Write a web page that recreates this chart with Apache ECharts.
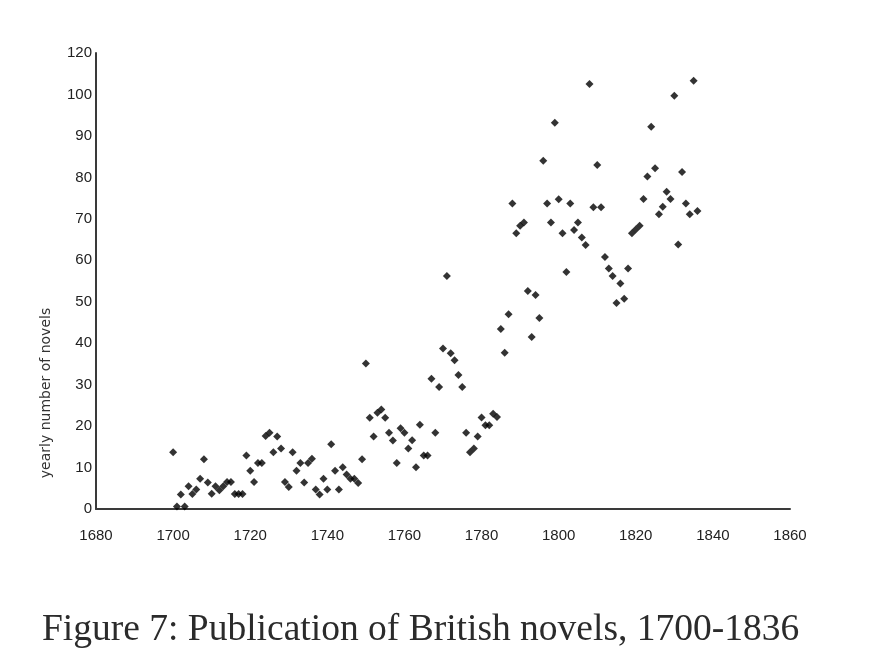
<!DOCTYPE html>
<html>
<head>
<meta charset="utf-8">
<script src="https://cdn.jsdelivr.net/npm/echarts@6/dist/echarts.min.js"></script>
<style>
html,body{margin:0;padding:0;background:#fff;}
#chart{width:880px;height:670px;}
</style>
</head>
<body>
<div id="chart"></div>
<script>
var years = [
  1700,1701,1702,1703,1704,1705,1706,1707,1708,1709,
  1710,1711,1712,1713,1714,1715,1716,1717,1718,1719,
  1720,1721,1722,1723,1724,1725,1726,1727,1728,1729,
  1730,1731,1732,1733,1734,1735,1736,1737,1738,1739,
  1740,1741,1742,1743,1744,1745,1746,1747,1748,1749,
  1750,1751,1752,1753,1754,1755,1756,1757,1758,1759,
  1760,1761,1762,1763,1764,1765,1766,1767,1768,1769,
  1770,1771,1772,1773,1774,1775,1776,1777,1778,1779,
  1780,1781,1782,1783,1784,1785,1786,1787,1788,1789,
  1790,1791,1792,1793,1794,1795,1796,1797,1798,1799,
  1800,1801,1802,1803,1804,1805,1806,1807,1808,1809,
  1810,1811,1812,1813,1814,1815,1816,1817,1818,1819,
  1820,1821,1822,1823,1824,1825,1826,1827,1828,1829,
  1830,1831,1832,1833,1834,1835,1836
];
var novels = [
  13.7, 0.6, 3.5, 0.6, 5.5, 3.6, 4.7, 7.3, 12.0, 6.4,
  3.7, 5.5, 4.5, 5.5, 6.5, 6.5, 3.6, 3.6, 3.6, 12.9,
  9.2, 6.5, 11.1, 11.1, 17.6, 18.4, 13.7, 17.5, 14.6, 6.5,
  5.3, 13.7, 9.2, 11.1, 6.4, 11.1, 12.1, 4.7, 3.5, 7.3,
  4.7, 15.6, 9.2, 4.7, 10.1, 8.3, 7.3, 7.3, 6.3, 12.0,
  35.1, 22.0, 17.5, 23.2, 24.0, 22.0, 18.4, 16.5, 11.1, 19.5,
  18.4, 14.6, 16.6, 10.1, 20.3, 12.9, 12.9, 31.4, 18.4, 29.4,
  38.7, 56.2, 37.6, 35.9, 32.3, 29.4, 18.4, 13.7, 14.6, 17.5,
  22.1, 20.2, 20.2, 23.0, 22.2, 43.4, 37.7, 47.0, 73.7, 66.5,
  68.3, 69.1, 52.6, 41.5, 51.6, 46.1, 84.0, 73.7, 69.1, 93.2,
  74.7, 66.5, 57.2, 73.7, 67.3, 69.1, 65.5, 63.7, 102.5, 72.8,
  83.0, 72.8, 60.8, 58.0, 56.2, 49.7, 54.4, 50.7, 58.0, 66.5,
  67.4, 68.3, 74.8, 80.2, 92.2, 82.2, 71.1, 72.9, 76.5, 74.8,
  99.7, 63.8, 81.3, 73.7, 71.1, 103.3, 71.9
];
var yTickLabels = {0:'0',10:'10',20:'20',30:'30',40:'40',50:'50',60:'60',70:'70',80:'80',90:'90',100:'100',110:'120'};
var yAxisTitle = 'yearly number of novels';
var caption = 'Figure 7: Publication of British novels, 1700-1836';

var points = years.map(function (y, i) { return [y, novels[i]]; });

var chart = echarts.init(document.getElementById('chart'), null, {renderer: 'canvas'});
var labelFont = {color: '#222', fontSize: 15, fontFamily: 'Liberation Sans, Arial, sans-serif'};
chart.setOption({
  animation: false,
  backgroundColor: '#fff',
  grid: {left: 96, right: 90, top: 53, bottom: 161, containLabel: false},
  xAxis: {
    type: 'value', min: 1680, max: 1860, interval: 20,
    axisLine: {show: true, onZero: false, lineStyle: {color: '#3a3a3a', width: 2}},
    axisTick: {show: false},
    splitLine: {show: false},
    axisLabel: Object.assign({margin: 19, showMaxLabel: true, showMinLabel: true,
      formatter: function (v) { return String(v); }}, labelFont)
  },
  yAxis: {
    type: 'value', min: 0, max: 110, interval: 10,
    axisLine: {show: true, lineStyle: {color: '#3a3a3a', width: 2}},
    axisTick: {show: false},
    splitLine: {show: false},
    axisLabel: Object.assign({margin: 4, formatter: function (v) { return yTickLabels[v]; }}, labelFont)
  },
  graphic: [
    {
      type: 'text', x: 46, y: 393, rotation: Math.PI / 2,
      style: {text: yAxisTitle, fill: '#333', fontSize: 14, fontFamily: 'DejaVu Sans, sans-serif', textAlign: 'center', textVerticalAlign: 'middle'}
    },
    {
      type: 'text', left: 42, top: 611,
      style: {text: caption, fill: '#2b2b2b', fontSize: 37.5, fontFamily: 'Liberation Serif, Times New Roman, serif'}
    }
  ],
  series: [{
    type: 'scatter',
    data: points,
    symbol: 'diamond',
    symbolSize: 8,
    itemStyle: {color: '#000'}
  }]
});
</script>
</body>
</html>
